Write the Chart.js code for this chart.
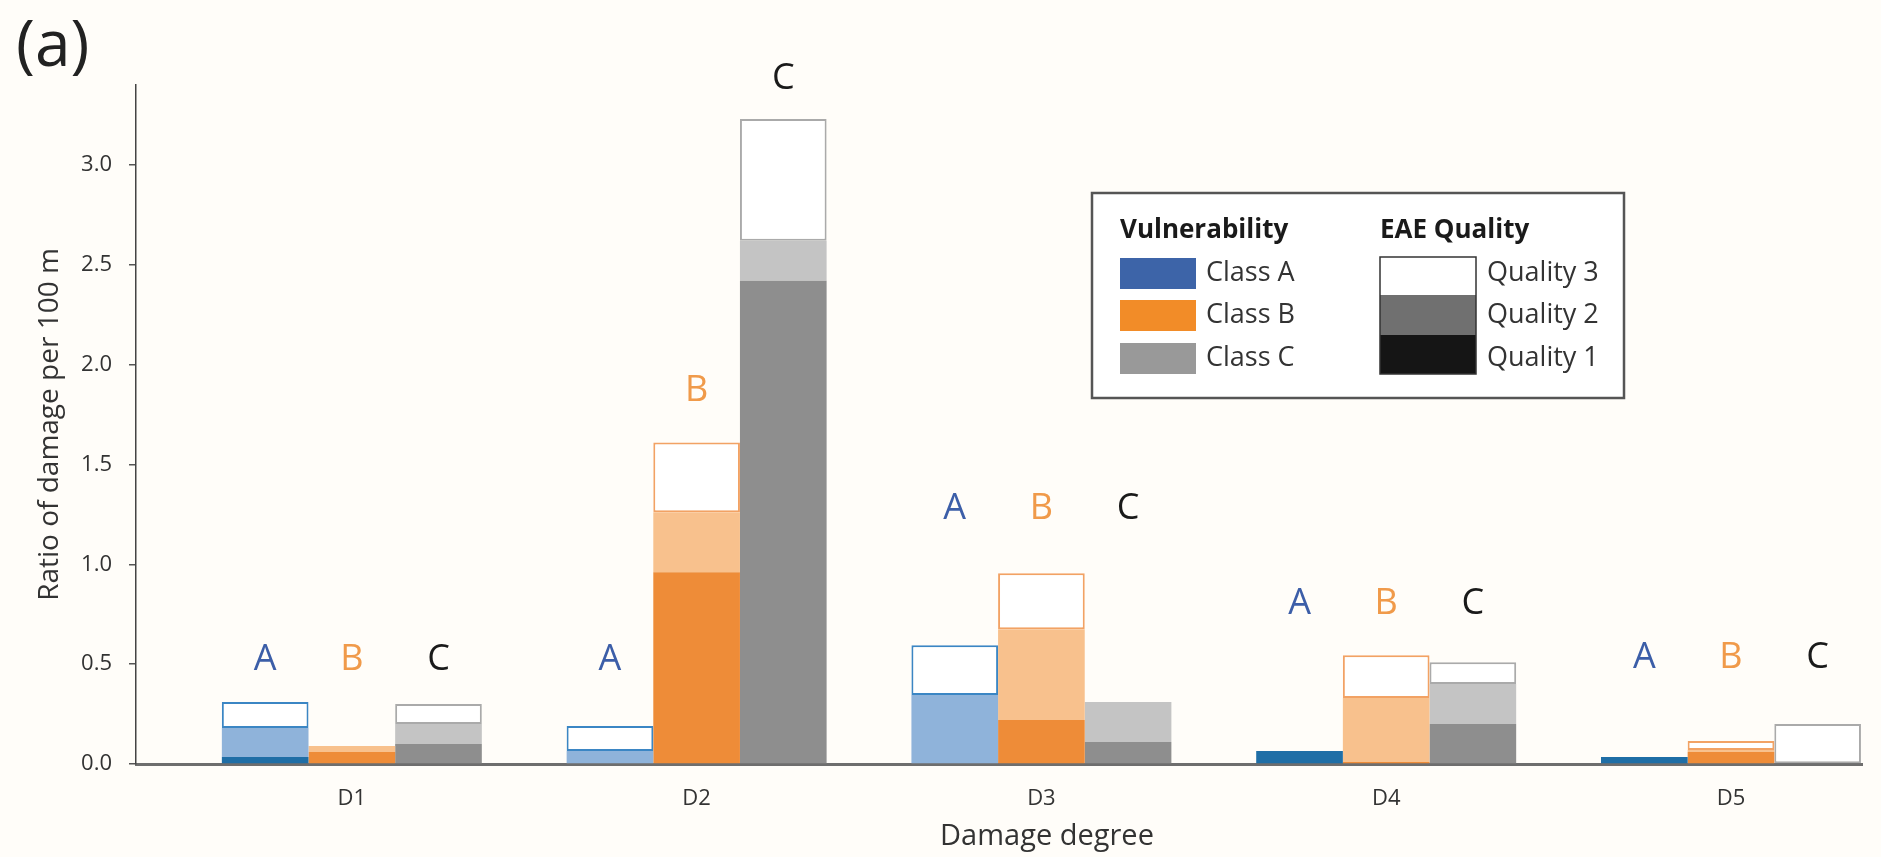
<!DOCTYPE html>
<html>
<head>
<meta charset="utf-8">
<title>Ratio of damage per 100 m</title>
<script src="https://cdn.jsdelivr.net/npm/chart.js@4.4.1/dist/chart.umd.min.js"></script>
<style>
    html, body { margin: 0; padding: 0; background: #fffdf9; overflow: hidden; }
    #wrap { width: 1881px; height: 857px; position: relative; }
</style>
</head>
<body>
<div id="wrap"><canvas id="damageChart"></canvas></div>
<script>
// Data
const categories = ['D1', 'D2', 'D3', 'D4', 'D5'];
const classNames = ['A', 'B', 'C'];

// ratio of damage per 100 m, split by EAE quality (Q1 bottom, Q3 top)
const classA_q1 = [0.035, 0, 0, 0.065, 0.035];
const classA_q2 = [0.145, 0.065, 0.345, 0, 0];
const classA_q3 = [0.13, 0.125, 0.25, 0, 0];

const classB_q1 = [0.06, 0.96, 0.22, 0.01, 0.06];
const classB_q2 = [0.03, 0.30, 0.455, 0.32, 0.01];
const classB_q3 = [0, 0.35, 0.28, 0.215, 0.045];

const classC_q1 = [0.10, 2.42, 0.11, 0.20, 0];
const classC_q2 = [0.10, 0.20, 0.20, 0.20, 0];
const classC_q3 = [0.10, 0.61, 0, 0.11, 0.20];

// height (in y units) where the A / B / C letters sit
const letterA = [0.52, 0.52, 1.28, 0.80, 0.53];
const letterB = [0.52, 1.87, 1.28, 0.80, 0.53];
const letterC = [0.52, 3.43, 1.28, 0.80, 0.53];

const yTicks = [0, 0.5, 1.0, 1.5, 2.0, 2.5, 3.0];

// Styles
const FONT = "'Open Sans', 'Noto Sans', sans-serif";
const classColors = {
    A: { q1: '#1f6ea6', q2: '#8fb3da', q3: '#ffffff', edge: '#3b86c4', letter: '#3c5ea8' },
    B: { q1: '#ee8c38', q2: '#f8c18d', q3: '#ffffff', edge: '#f2a264', letter: '#f09a4a' },
    C: { q1: '#8e8e8e', q2: '#c4c4c4', q3: '#ffffff', edge: '#aaaaaa', letter: '#1a1a1a' }
};
const seriesData = {
    A: [classA_q1, classA_q2, classA_q3],
    B: [classB_q1, classB_q2, classB_q3],
    C: [classC_q1, classC_q2, classC_q3]
};
const letterData = { A: letterA, B: letterB, C: letterC };

// Build datasets: one stack per vulnerability class, one dataset per quality
function buildDatasets() {
    let datasets = [];
    classNames.forEach(cls => {
        seriesData[cls].forEach((values, q) => {
            let isTop = q === 2;
            datasets.push({
                label: `Class ${cls} - Quality ${q + 1}`,
                stack: cls,
                cls: cls,
                data: values.map((v, i) => ({ x: i + 1, y: v })),
                backgroundColor: classColors[cls]['q' + (q + 1)],
                borderColor: classColors[cls].edge,
                borderWidth: isTop ? 2 : 0,
                borderSkipped: isTop ? false : 'start'
            });
        });
    });
    return datasets;
}

// Letters above the bars, legend box, x title and panel tag
const annotations = {
    id: 'annotations',
    afterDatasetsDraw(chart) {
        const ctx = chart.ctx;
        const y = chart.scales.y;
        ctx.save();
        ctx.font = `36px ${FONT}`;
        ctx.textAlign = 'center';
        ctx.textBaseline = 'middle';
        chart.data.datasets.forEach((ds, di) => {
            if (!ds.label.endsWith('Quality 1')) return;
            let meta = chart.getDatasetMeta(di);
            meta.data.forEach((bar, i) => {
                ctx.fillStyle = classColors[ds.cls].letter;
                ctx.fillText(ds.cls, bar.x, y.getPixelForValue(letterData[ds.cls][i]));
            });
        });
        ctx.restore();
    },
    afterDraw(chart) {
        const ctx = chart.ctx;
        ctx.save();

        // panel tag
        ctx.fillStyle = '#222';
        ctx.font = `64px ${FONT}`;
        ctx.textBaseline = 'middle';
        ctx.fillText('(a)', 16, 48);

        // x axis title, centred a little right of the plot centre as in the figure
        ctx.fillStyle = '#333';
        ctx.font = `29px ${FONT}`;
        ctx.textAlign = 'center';
        ctx.fillText('Damage degree', 1047, 837);
        ctx.textAlign = 'left';

        // legend box
        ctx.fillStyle = '#ffffff';
        ctx.fillRect(1092, 193, 532, 205);
        ctx.strokeStyle = '#555';
        ctx.lineWidth = 2.5;
        ctx.strokeRect(1092, 193, 532, 205);

        ctx.fillStyle = '#1a1a1a';
        ctx.font = `bold 26px ${FONT}`;
        ctx.fillText('Vulnerability', 1120, 231);
        ctx.fillText('EAE Quality', 1380, 231);

        const rows = [273, 315, 358];
        const swatches = ['#3d64a8', '#f28c28', '#999999'];
        ctx.font = `27px ${FONT}`;
        rows.forEach((ry, i) => {
            ctx.fillStyle = swatches[i];
            ctx.fillRect(1120, ry - 15, 76, 31);
            ctx.fillStyle = '#333';
            ctx.fillText(`Class ${classNames[i]}`, 1206, ry);
        });

        const qFill = ['#ffffff', '#707070', '#151515'];
        const qTop = [257, 295, 335];
        const qH = [38, 40, 39];
        qFill.forEach((c, i) => {
            ctx.fillStyle = c;
            ctx.fillRect(1380, qTop[i], 96, qH[i]);
        });
        ctx.strokeStyle = '#333';
        ctx.lineWidth = 1.5;
        ctx.strokeRect(1380, 257, 96, 117);
        ctx.fillStyle = '#333';
        ['Quality 3', 'Quality 2', 'Quality 1'].forEach((t, i) => {
            ctx.fillText(t, 1487, rows[i]);
        });

        ctx.restore();
    }
};

// Create chart
function createStackedChart(canvasID) {
    const ctx = document.getElementById(canvasID).getContext('2d');

    const myChart = new Chart(ctx, {
        type: 'bar',
        data: { datasets: buildDatasets() },
        options: {
            responsive: true,
            maintainAspectRatio: false,
            animation: false,
            categoryPercentage: 0.754,
            barPercentage: 1,
            layout: { padding: { top: 85, right: 19, left: 0, bottom: 0 } },
            plugins: {
                legend: { display: false },
                tooltip: { enabled: false }
            },
            scales: {
                x: {
                    type: 'linear',
                    stacked: true,
                    offset: false,
                    min: 0.374,
                    max: 5.38,
                    afterBuildTicks: (scale) => {
                        scale.ticks = categories.map((c, i) => ({ value: i + 1 }));
                    },
                    afterFit: (scale) => { scale.height = 93; },
                    grid: { display: false, drawTicks: false },
                    border: { display: true, color: '#6e6e6e', width: 3 },
                    ticks: {
                        padding: 22,
                        color: '#333',
                        font: { family: FONT, size: 22 },
                        callback: (v) => categories[Math.round(v) - 1]
                    }
                },
                y: {
                    stacked: true,
                    min: 0,
                    max: 3.4,
                    afterBuildTicks: (scale) => {
                        scale.ticks = yTicks.map(v => ({ value: v }));
                    },
                    afterFit: (scale) => { scale.width = 136; },
                    grid: { drawOnChartArea: false, tickLength: 7, color: '#555', lineWidth: 1.5 },
                    border: { display: true, color: '#444', width: 1.5 },
                    ticks: {
                        padding: 17,
                        color: '#333',
                        font: { family: FONT, size: 22 },
                        callback: (v) => v.toFixed(1)
                    },
                    title: {
                        display: true,
                        text: 'Ratio of damage per 100 m',
                        color: '#333',
                        font: { family: FONT, size: 28 },
                        padding: { top: 33, bottom: 0 }
                    }
                }
            }
        },
        plugins: [annotations]
    });

    return myChart;
}

createStackedChart('damageChart');
</script>
</body>
</html>
